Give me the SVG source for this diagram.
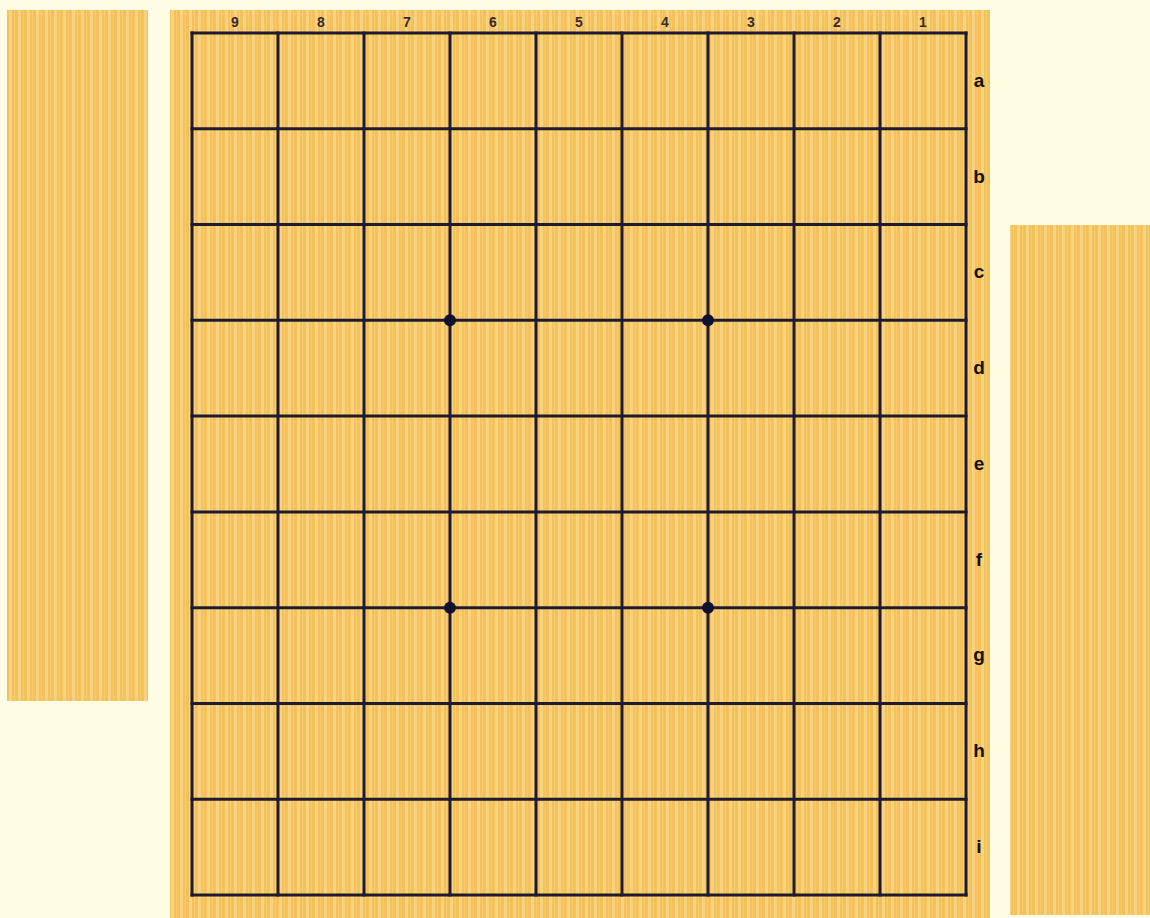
<svg xmlns="http://www.w3.org/2000/svg" width="1150" height="918" viewBox="0 0 1150 918">
<defs>
<pattern id="wood" patternUnits="userSpaceOnUse" width="9" height="10">
<rect width="9" height="10" fill="#F4C25C"/>
<rect x="0" width="3" height="10" fill="#F9D37F"/>
<rect x="5" width="1" height="10" fill="#F7CB6E"/>
</pattern>
<style>
.grid line{stroke:#1f1b2e;stroke-width:3;stroke-linecap:square}
.col{font-family:"Liberation Sans",Arial,sans-serif;font-size:14px;font-weight:bold;fill:#3a2a2a;text-anchor:middle}
.row{font-family:"Liberation Sans",Arial,sans-serif;font-size:19px;font-weight:bold;fill:#111;text-anchor:middle}
.dot{fill:#101030}
</style>
</defs>
<rect width="1150" height="918" fill="#FFFDE3"/>
<g id="left-stand"><rect x="7" y="10" width="141" height="691" fill="url(#wood)"/></g>
<g id="right-stand"><rect x="1010" y="225" width="140" height="690" fill="url(#wood)"/></g>
<g id="board">
<rect x="170" y="10" width="820" height="908" fill="url(#wood)"/>
<g class="grid">
<line x1="192" y1="33" x2="192" y2="895"/>
<line x1="278" y1="33" x2="278" y2="895"/>
<line x1="364" y1="33" x2="364" y2="895"/>
<line x1="450" y1="33" x2="450" y2="895"/>
<line x1="536" y1="33" x2="536" y2="895"/>
<line x1="622" y1="33" x2="622" y2="895"/>
<line x1="708" y1="33" x2="708" y2="895"/>
<line x1="794" y1="33" x2="794" y2="895"/>
<line x1="880" y1="33" x2="880" y2="895"/>
<line x1="966" y1="33" x2="966" y2="895"/>
<line x1="192" y1="33" x2="966" y2="33"/>
<line x1="192" y1="128.8" x2="966" y2="128.8"/>
<line x1="192" y1="224.6" x2="966" y2="224.6"/>
<line x1="192" y1="320.3" x2="966" y2="320.3"/>
<line x1="192" y1="416.1" x2="966" y2="416.1"/>
<line x1="192" y1="511.9" x2="966" y2="511.9"/>
<line x1="192" y1="607.7" x2="966" y2="607.7"/>
<line x1="192" y1="703.4" x2="966" y2="703.4"/>
<line x1="192" y1="799.2" x2="966" y2="799.2"/>
<line x1="192" y1="895" x2="966" y2="895"/>
</g>
<circle class="dot" cx="450" cy="320.3" r="6"/>
<circle class="dot" cx="708" cy="320.3" r="6"/>
<circle class="dot" cx="450" cy="607.7" r="6"/>
<circle class="dot" cx="708" cy="607.7" r="6"/>
<g id="col-labels">
<text class="col" x="235" y="27">9</text>
<text class="col" x="321" y="27">8</text>
<text class="col" x="407" y="27">7</text>
<text class="col" x="493" y="27">6</text>
<text class="col" x="579" y="27">5</text>
<text class="col" x="665" y="27">4</text>
<text class="col" x="751" y="27">3</text>
<text class="col" x="837" y="27">2</text>
<text class="col" x="923" y="27">1</text>
</g>
<g id="row-labels">
<text class="row" x="979" y="87">a</text>
<text class="row" x="979" y="183">b</text>
<text class="row" x="979" y="278">c</text>
<text class="row" x="979" y="374">d</text>
<text class="row" x="979" y="470">e</text>
<text class="row" x="979" y="566">f</text>
<text class="row" x="979" y="661">g</text>
<text class="row" x="979" y="757">h</text>
<text class="row" x="979" y="853">i</text>
</g>
</g>
</svg>
